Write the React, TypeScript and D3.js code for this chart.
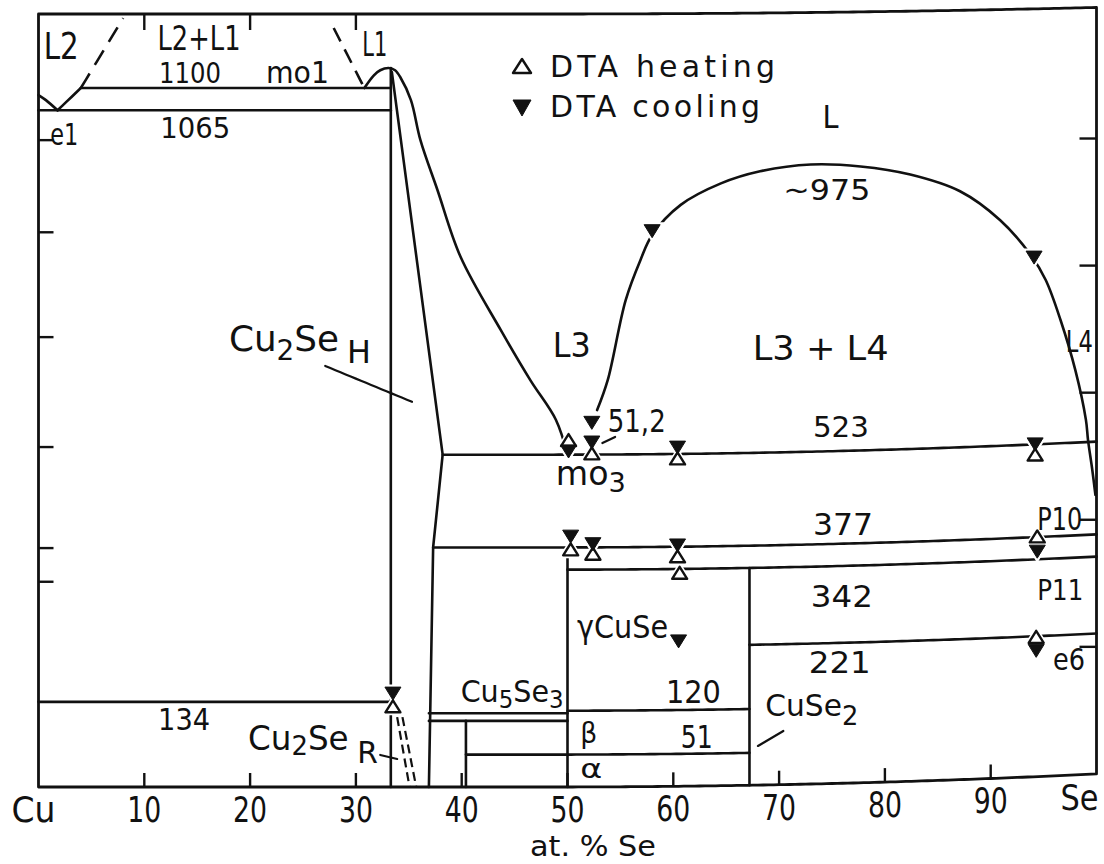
import React from "react";
import * as d3 from "d3";

type Pt = [number, number];

const WIDTH = 1104;
const HEIGHT = 864;

// Composition axis (at.% Se)
const xTickValues = [0, 10, 20, 30, 40, 50, 60, 70, 80, 90, 100];
const xTickLabels = ["Cu", "10", "20", "30", "40", "50", "60", "70", "80", "90", "Se"];
const bottomTicks = [10, 20, 30, 40, 50, 60, 70, 80, 90];
const topTicks = [10, 20, 30];
// Temperature ticks (°C)
const rightTicks = [200, 400, 600, 800, 1000];
const leftTicks = [323, 376, 535, 708, 873, 1018];

// Horizontal invariant lines: temperature and composition span
const isoT = [1100, 1065, 523, 377, 342, 221, 134, 120, 116, 104, 51];
const isoFrom = [4.0, 0, 38.2, 37.3, 50, 67.2, 0, 50, 36.9, 36.9, 40.4];
const isoTo = [33.3, 33.3, 100, 100, 100, 100, 33.3, 67.2, 50, 50, 67.2];

// Vertical phase boundaries: composition and upper temperature
const vertP = [33.3, 50, 67.2, 40.4];
const vertTop = [1131.5, 377, 342, 104];

// Boundary curves (at.% Se, °C)
const cuLiquidus: Pt[] = [[0, 1089], [0.7, 1081], [1.8, 1065]];
const eutecticBranch: Pt[] = [[1.8, 1065], [4.0, 1100]];
const cu2seLiquidus: Pt[] = [
  [30.8, 1100], [31.7, 1120], [32.3, 1128], [33.1, 1131.5], [33.7, 1128], [34.2, 1117],
  [35.2, 1081], [36.1, 1018], [37.7, 940], [39.9, 834], [43.7, 719], [46.5, 640],
  [48.9, 578], [50.0, 523],
];
const cu2seSolvus: Pt[] = [[33.4, 1125], [38.2, 523], [37.3, 377], [36.9, 0]];
const miscibilityGap: Pt[] = [
  [52.8, 593], [53.8, 640], [55.5, 766], [56.9, 829], [58.0, 868], [60.7, 915],
  [64.5, 948], [68.2, 966], [73.0, 975], [77.7, 970], [82.4, 955], [87.1, 926],
  [90.9, 878], [93.8, 821], [95.2, 781], [96.6, 717], [98.0, 637], [99.0, 558],
  [99.2, 526], [99.6, 479], [99.9, 439],
];
const dashedL2: Pt[] = [[4.0, 1100], [8.0, 1210]];
const dashedL1: Pt[] = [[27.9, 1194.5], [30.8, 1100]];
const cu2seRLeft: Pt[] = [[33.9, 110], [35.07, 0]];
const cu2seRRight: Pt[] = [[34.4, 110], [35.7, 0]];

// DTA signals
const heatingP = [33.5, 50.1, 52.3, 60.4, 94.2, 50.3, 52.4, 60.4, 94.4, 60.6, 94.3];
const heatingT = [127, 546, 525, 516, 507, 374, 367, 362, 378, 336, 220];
const coolingP = [33.5, 50.1, 52.3, 52.3, 60.4, 94.2, 50.3, 52.4, 60.4, 94.4, 60.5, 94.3, 58.0, 94.1];
const coolingT = [147, 528, 573, 542, 533, 523, 394, 382, 379, 354, 228, 198, 874, 817];

// Leader lines from labels to their fields
const leaders: Pt[][] = [
  [[27.1, 662.6], [35.3, 606.2]],
  [[53.3, 541.2], [54.5, 550.5]],
  [[68.0, 61.6], [70.4, 84.4]],
  [[32.3, 50.4], [33.9, 44.1]],
];

type Part = { t: string; dy?: number; dx?: number; fs?: number };
type Lab = { parts: Part[]; p: number; T: number; fs: number; w: number };

const labels: Lab[] = [
  { parts: [{ t: "L2" }], p: 0.5, T: 1146, fs: 37, w: 35 },
  { parts: [{ t: "L2+L1" }], p: 11.25, T: 1160, fs: 34, w: 83 },
  { parts: [{ t: "1100" }], p: 11.4, T: 1108, fs: 29, w: 62 },
  { parts: [{ t: "mo1" }], p: 21.5, T: 1108, fs: 31, w: 63 },
  { parts: [{ t: "L1" }], p: 30.6, T: 1150, fs: 34, w: 25 },
  { parts: [{ t: "e1" }], p: 1.1, T: 1010, fs: 30, w: 28 },
  { parts: [{ t: "1065" }], p: 11.5, T: 1021, fs: 29, w: 70 },
  { parts: [{ t: "L" }], p: 74.1, T: 1032, fs: 32, w: 16 },
  { parts: [{ t: "~975" }], p: 70.4, T: 920, fs: 29, w: 87 },
  {
    parts: [{ t: "Cu" }, { t: "2", dy: 9, fs: 28 }, { t: "Se", dy: -9 }, { t: "H", dy: 12, dx: 8, fs: 32 }],
    p: 18.0, T: 686, fs: 36, w: 142,
  },
  { parts: [{ t: "L3" }], p: 48.6, T: 677, fs: 34, w: 38 },
  { parts: [{ t: "L3 + L4" }], p: 67.5, T: 669, fs: 34, w: 136 },
  { parts: [{ t: "L4" }], p: 97.1, T: 666, fs: 30, w: 27 },
  { parts: [{ t: "51,2" }], p: 53.8, T: 558, fs: 32, w: 58 },
  { parts: [{ t: "mo" }, { t: "3", dy: 7, fs: 27 }], p: 48.9, T: 475, fs: 33, w: 70 },
  { parts: [{ t: "523" }], p: 73.2, T: 546, fs: 29, w: 56 },
  { parts: [{ t: "377" }], p: 73.2, T: 392, fs: 30, w: 60 },
  { parts: [{ t: "P10" }], p: 94.4, T: 388, fs: 32, w: 45 },
  { parts: [{ t: "342" }], p: 73.0, T: 279, fs: 30, w: 62 },
  { parts: [{ t: "P11" }], p: 94.4, T: 278, fs: 28, w: 46 },
  { parts: [{ t: "γCuSe" }], p: 50.9, T: 234.5, fs: 32, w: 91 },
  { parts: [{ t: "221" }], p: 72.8, T: 175, fs: 30, w: 62 },
  { parts: [{ t: "e6" }], p: 95.9, T: 167, fs: 30, w: 32 },
  {
    parts: [{ t: "Cu" }, { t: "5", dy: 6, fs: 24 }, { t: "Se", dy: -6 }, { t: "3", dy: 6, fs: 24 }],
    p: 39.9, T: 134, fs: 30, w: 103,
  },
  { parts: [{ t: "120" }], p: 59.3, T: 131, fs: 32, w: 55 },
  { parts: [{ t: "CuSe" }, { t: "2", dy: 9, fs: 26 }], p: 68.7, T: 108.6, fs: 30, w: 93 },
  { parts: [{ t: "134" }], p: 11.3, T: 90, fs: 30, w: 52 },
  {
    parts: [{ t: "Cu" }, { t: "2", dy: 5, fs: 27 }, { t: "Se", dy: -5 }, { t: "R", dy: 13, dx: 9, fs: 31 }],
    p: 19.8, T: 58, fs: 34, w: 130,
  },
  { parts: [{ t: "β" }], p: 51.2, T: 69, fs: 29, w: 17 },
  { parts: [{ t: "51" }], p: 60.7, T: 60, fs: 32, w: 32 },
  { parts: [{ t: "α" }], p: 51.2, T: 14, fs: 27, w: 22 },
];

const INK = "#111";
const FONT = "'DejaVu Sans', Verdana, sans-serif";

const xScale = d3.scaleLinear().domain([0, 100]).range([38.5, 1096.5]);
const yScale = d3.scaleLinear().domain([0, 1200]).range([787, 24.5]);
const FRAME_TOP = 14;
const tTop = yScale.invert(FRAME_TOP);

// gentle upward drift of the drawing toward the Se side
const drift = (x: number) => {
  const u = Math.max(0, (x - 550) / 545);
  return 13 * u * u;
};
const proj = (d: Pt): Pt => {
  const x = xScale(d[0]);
  return [x, yScale(d[1]) - drift(x)];
};

const densify = (pts: Pt[], step = 0.5): Pt[] => {
  const out: Pt[] = [pts[0]];
  for (let i = 1; i < pts.length; i++) {
    const [p0, t0] = pts[i - 1];
    const [p1, t1] = pts[i];
    const n = Math.max(1, Math.ceil(Math.abs(p1 - p0) / step));
    for (let k = 1; k <= n; k++) out.push([p0 + ((p1 - p0) * k) / n, t0 + ((t1 - t0) * k) / n]);
  }
  return out;
};

const straight = d3.line<Pt>();
const smooth = d3.line<Pt>().curve(d3.curveCatmullRom.alpha(0.5));
const lin = (pts: Pt[]) => straight(densify(pts).map(proj)) ?? "";
const crv = (pts: Pt[]) => smooth(pts.map(proj)) ?? "";

const tri = (cx: number, cy: number, w: number, h: number, up: boolean) =>
  up
    ? `M${cx - w / 2},${cy + h / 2}L${cx + w / 2},${cy + h / 2}L${cx},${cy - h / 2}Z`
    : `M${cx - w / 2},${cy - h / 2}L${cx + w / 2},${cy - h / 2}L${cx},${cy + h / 2}Z`;

const MW = 16;
const MH = 13;

export default function App() {
  // frame: bottom, right and left follow the projection; the top edge drifts half as much
  const topEdge: Pt[] = d3.range(0, 100.01, 0.5).map((p) => {
    const x = xScale(p);
    return [x, FRAME_TOP - 0.5 * drift(x)];
  });
  const bottomEdge = densify([[0, 0], [100, 0]]).map(proj);
  const framePts: Pt[] = [...bottomEdge, ...topEdge.slice().reverse(), bottomEdge[0]];
  const framePath = straight(framePts) ?? "";

  const heating = heatingP.map((p, i) => proj([p, heatingT[i]]));
  const cooling = coolingP.map((p, i) => proj([p, coolingT[i]]));

  const lineStyle = {
    fill: "none",
    stroke: INK,
    strokeWidth: 2.6,
    strokeLinecap: "round" as const,
    strokeLinejoin: "round" as const,
  };

  return (
    <svg
      width={WIDTH}
      height={HEIGHT}
      style={{ position: "absolute", left: 0, top: 0, background: "#fff" }}
      fontFamily={FONT}
    >
      <rect width={WIDTH} height={HEIGHT} fill="#fff" />

      {/* frame */}
      <path d={framePath} {...lineStyle} strokeWidth={2.8} />

      {/* ticks */}
      {bottomTicks.map((v) => {
        const [x, y] = proj([v, 0]);
        return <line key={`b${v}`} x1={x} x2={x} y1={y} y2={y - 14} stroke={INK} strokeWidth={2.4} />;
      })}
      {topTicks.map((v) => {
        const x = xScale(v);
        const y = FRAME_TOP - 0.5 * drift(x);
        return <line key={`t${v}`} x1={x} x2={x} y1={y} y2={y + 16} stroke={INK} strokeWidth={2.4} />;
      })}
      {rightTicks.map((v) => {
        const [x, y] = proj([100, v]);
        return <line key={`r${v}`} x1={x} x2={x - 17} y1={y} y2={y} stroke={INK} strokeWidth={2.4} />;
      })}
      {leftTicks.map((v) => {
        const [x, y] = proj([0, v]);
        return <line key={`l${v}`} x1={x} x2={x + 15} y1={y} y2={y} stroke={INK} strokeWidth={2.4} />;
      })}

      {/* isotherms */}
      {isoT.map((t, i) => (
        <path key={`iso${i}`} d={lin([[isoFrom[i], t], [isoTo[i], t]])} {...lineStyle} />
      ))}
      {/* vertical boundaries */}
      {vertP.map((p, i) => (
        <path key={`v${i}`} d={lin([[p, vertTop[i]], [p, 0]])} {...lineStyle} />
      ))}

      {/* curves */}
      <path d={crv(cuLiquidus)} {...lineStyle} />
      <path d={lin(eutecticBranch)} {...lineStyle} />
      <path d={crv(cu2seLiquidus)} {...lineStyle} />
      <path d={lin(cu2seSolvus)} {...lineStyle} />
      <path d={crv(miscibilityGap)} {...lineStyle} />
      <path d={lin(dashedL2)} {...lineStyle} strokeLinecap="butt" strokeDasharray="17 10" />
      <path d={lin(dashedL1)} {...lineStyle} strokeLinecap="butt" strokeDasharray="15 9" />
      <path d={lin(cu2seRLeft)} {...lineStyle} strokeWidth={2.2} strokeLinecap="butt" strokeDasharray="9 5" />
      <path d={lin(cu2seRRight)} {...lineStyle} strokeWidth={2.2} strokeLinecap="butt" strokeDasharray="9 5" />

      {leaders.map((l, i) => (
        <path key={`ld${i}`} d={lin(l)} {...lineStyle} strokeWidth={2.2} />
      ))}

      {/* DTA points: white knock-outs, then symbols */}
      {heating.map(([x, y], i) => (
        <path key={`hh${i}`} d={tri(x, y, MW, MH, true)} fill="#fff" stroke="#fff" strokeWidth={5} />
      ))}
      {cooling.map(([x, y], i) => (
        <path key={`ch${i}`} d={tri(x, y, MW, MH, false)} fill="#fff" stroke="#fff" strokeWidth={5} />
      ))}
      {heating.map(([x, y], i) => (
        <path
          key={`h${i}`}
          d={tri(x, y, MW - 1, MH - 1, true)}
          fill="#fff"
          stroke={INK}
          strokeWidth={2.4}
          strokeLinejoin="round"
        />
      ))}
      {cooling.map(([x, y], i) => (
        <path
          key={`c${i}`}
          d={tri(x, y, MW, MH, false)}
          fill={INK}
          stroke={INK}
          strokeWidth={1}
          strokeLinejoin="round"
        />
      ))}

      {/* field and temperature labels */}
      {labels.map((lab, i) => {
        const [x, y] = proj([lab.p, lab.T]);
        return (
          <text
            key={`lab${i}`}
            x={x}
            y={y}
            fontSize={lab.fs}
            fill={INK}
            textLength={lab.w}
            lengthAdjust="spacingAndGlyphs"
          >
            {lab.parts.map((pt, k) => (
              <tspan key={k} dy={pt.dy ?? 0} dx={pt.dx ?? 0} fontSize={pt.fs ?? lab.fs}>
                {pt.t}
              </tspan>
            ))}
          </text>
        );
      })}

      {/* composition tick labels */}
      {xTickValues.map((v, i) => {
        const last = i === xTickValues.length - 1;
        const nudge = i === 0 ? -5 : last ? -17 : 0;
        const x = xScale(v) + nudge;
        const y = yScale(0) - drift(x) + 35;
        const len = i === 0 ? 44 : last ? 38 : 34;
        return (
          <text
            key={`xt${v}`}
            x={x}
            y={y}
            fontSize={35}
            textAnchor="middle"
            fill={INK}
            textLength={len}
            lengthAdjust="spacingAndGlyphs"
          >
            {xTickLabels[i]}
          </text>
        );
      })}
      <text x={593} y={856} fontSize={29} textAnchor="middle" fill={INK} textLength={126} lengthAdjust="spacingAndGlyphs">
        at. % Se
      </text>

      {/* legend */}
      <path d={tri(522, 66, 18, 14, true)} fill="#fff" stroke={INK} strokeWidth={2.4} strokeLinejoin="round" />
      <text x={550} y={77} fontSize={30} fill={INK} textLength={225} lengthAdjust="spacing">
        DTA heating
      </text>
      <path d={tri(522, 108, 18, 16, false)} fill={INK} stroke={INK} strokeWidth={1} />
      <text x={550} y={117} fontSize={30} fill={INK} textLength={210} lengthAdjust="spacing">
        DTA cooling
      </text>
    </svg>
  );
}
